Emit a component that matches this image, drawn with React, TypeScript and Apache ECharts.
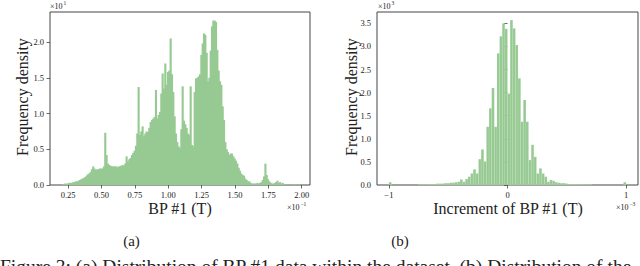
import React, { useEffect, useRef } from "react";
import * as echarts from "echarts";

// (a) BP #1 histogram: bins of width 0.01 starting at 0.20 (x10^-1 T), density x10^1
const bpBinStart = 0.2;
const bpBinWidth = 0.01;
const bpDensity = [
  0.01, 0.01, 0.02, 0.02, 0.02, 0.03, 0.03, 0.03, 0.04, 0.04,
  0.05, 0.05, 0.06, 0.07, 0.08, 0.09, 0.10, 0.11, 0.13, 0.15,
  0.16, 0.18, 0.22, 0.26, 0.23, 0.21, 0.22, 0.22, 0.23, 0.23,
  0.23, 0.26, 0.73, 0.42, 0.30, 0.28, 0.27, 0.26, 0.26, 0.26,
  0.26, 0.25, 0.26, 0.26, 0.27, 0.28, 0.27, 0.30, 0.40, 0.33,
  0.36, 0.38, 0.42, 0.45, 0.48, 0.55, 0.72, 1.37, 0.70, 0.75,
  0.82, 0.68, 0.72, 0.75, 0.74, 0.80, 0.88, 0.91, 0.93, 0.95,
  1.33, 0.93, 0.98, 1.02, 1.28, 1.56, 1.35, 1.70, 1.40, 1.58,
  1.60, 2.05, 1.55, 1.30, 0.96, 0.72, 0.60, 0.54, 0.52, 0.78,
  1.38, 0.90, 0.85, 0.80, 0.72, 0.70, 1.38, 0.56, 0.54, 1.30,
  1.49, 1.50, 1.52, 1.55, 1.82, 1.98, 2.12, 2.10, 1.85, 1.45,
  1.50, 1.88, 2.22, 2.30, 2.30, 2.28, 1.89, 1.60, 1.45, 1.40,
  1.10, 0.91, 0.60, 0.50, 0.46, 0.42, 0.44, 0.44, 0.40, 0.37,
  0.34, 0.30, 0.24, 0.20, 0.16, 0.14, 0.13, 0.09, 0.07, 0.05,
  0.05, 0.03, 0.02, 0.02, 0.02, 0.02, 0.03, 0.02, 0.03, 0.04,
  0.07, 0.12, 0.30, 0.14, 0.08, 0.05, 0.03, 0.02, 0.02, 0.03,
  0.04, 0.06, 0.03, 0.04, 0.02, 0.03, 0.01, 0.01, 0.00, 0.01,
  0.00, 0.01, 0.00, 0.01, 0.01, 0.01, 0.00, 0.01,
];

// (b) increment histogram: 90 bins over [-1, 1] (x10^-3 T), density x10^3
const incBinStart = -1;
const incBinCount = 90;
const incDensity = [
  0.06, 0, 0, 0, 0, 0, 0, 0, 0, 0,
  0, 0.01, 0.01, 0.015, 0.015, 0.02, 0.02, 0.02, 0.03, 0.03,
  0.03, 0.04, 0.04, 0.05, 0.05, 0.06, 0.07, 0.12, 0.07, 0.13,
  0.18, 0.25, 0.34, 0.25, 0.56, 0.77, 0.51, 1.26, 1.66, 2.10,
  1.26, 2.85, 3.22, 3.50, 3.38, 1.98, 3.57, 3.39, 3.03, 2.31,
  1.37, 1.84, 1.37, 0.54, 0.87, 0.61, 0.25, 0.36, 0.25, 0.18,
  0.07, 0.11, 0.09, 0.06, 0.05, 0.04, 0.04, 0.03, 0.02, 0.02,
  0.02, 0.015, 0.015, 0.01, 0.01, 0.01, 0.01, 0, 0, 0,
  0, 0, 0, 0, 0, 0, 0, 0, 0, 0.06,
];

const bpXTicks = [0.25, 0.5, 0.75, 1.0, 1.25, 1.5, 1.75, 2.0];
const bpYTicks = [0, 0.5, 1.0, 1.5, 2.0];
const incXTicks = [-1, 0, 1];
const incYTicks = [0, 0.5, 1.0, 1.5, 2.0, 2.5, 3.0, 3.5];

const SERIF = "'Liberation Serif', 'Times New Roman', 'DejaVu Serif', serif";
const BAR = "#97ca93";
const INK = "#222";
const FRAME = "#444";

function binsToRects(start: number, width: number, vals: number[]) {
  return vals.map((v, i) => [start + i * width, start + (i + 1) * width, v]);
}

// bleed: extra px added to each bar's width so adjacent narrow bins leave no seams
function makeRender(fill: string, stroke: string, lw: number, bleed: number) {
  return (params: any, api: any) => {
    const h = api.value(2);
    if (!h) return { type: "group", children: [] };
    const p0 = api.coord([api.value(0), h]);
    const p1 = api.coord([api.value(1), 0]);
    return {
      type: "rect",
      shape: { x: p0[0], y: p0[1], width: p1[0] - p0[0] + bleed, height: p1[1] - p0[1] },
      style: { fill, stroke, lineWidth: lw },
    };
  };
}

function valueAxisX(grid: number, min: number, max: number, ticks: number[], fmt: (v: number) => string) {
  return {
    type: "value",
    gridIndex: grid,
    min,
    max,
    axisLine: { show: false },
    splitLine: { show: false },
    axisTick: { show: true, length: 3.5, customValues: ticks, lineStyle: { color: FRAME, width: 0.8 } },
    axisLabel: {
      customValues: ticks,
      formatter: fmt,
      fontFamily: SERIF,
      fontSize: 8.5,
      color: INK,
      margin: 5,
    },
  };
}

function valueAxisY(grid: number, max: number, ticks: number[]) {
  return {
    type: "value",
    gridIndex: grid,
    min: 0,
    max,
    axisLine: { show: false },
    splitLine: { show: false },
    axisTick: { show: true, length: 3.5, customValues: ticks, lineStyle: { color: FRAME, width: 0.8 } },
    axisLabel: {
      customValues: ticks,
      formatter: (v: number) => v.toFixed(1),
      fontFamily: SERIF,
      fontSize: 8.5,
      color: INK,
      margin: 6,
    },
  };
}

function txt(x: number, y: number, text: string, size: number, extra: any = {}) {
  return {
    type: "text",
    x,
    y,
    silent: true,
    ...extra,
    style: {
      text,
      fontFamily: SERIF,
      fontSize: size,
      fill: INK,
      align: extra.align || "left",
      verticalAlign: extra.verticalAlign || "middle",
    },
  };
}

export default function App() {
  const ref = useRef<HTMLDivElement>(null);

  useEffect(() => {
    document.body.style.margin = "0";
    if (!ref.current) return;
    const chart = echarts.init(ref.current, undefined, { renderer: "svg" });
    const minus = (v: number) => (v < 0 ? "\u2212" + Math.abs(v) : String(v));
    chart.setOption({
      animation: false,
      backgroundColor: "#fff",
      grid: [
        { left: 50, top: 12, width: 260, height: 173, show: true, borderColor: FRAME, borderWidth: 1, backgroundColor: "transparent" },
        { left: 377, top: 12, width: 261, height: 173, show: true, borderColor: FRAME, borderWidth: 1, backgroundColor: "transparent" },
      ],
      xAxis: [
        valueAxisX(0, 0.114, 2.062, bpXTicks, (v: number) => v.toFixed(2)),
        valueAxisX(1, -1.1, 1.1, incXTicks, minus),
      ],
      yAxis: [valueAxisY(0, 2.42, bpYTicks), valueAxisY(1, 3.745, incYTicks)],
      series: [
        {
          type: "custom",
          xAxisIndex: 0,
          yAxisIndex: 0,
          renderItem: makeRender(BAR, "none", 0, 0.8),
          encode: { x: [0, 1], y: 2 },
          data: binsToRects(bpBinStart, bpBinWidth, bpDensity),
          silent: true,
        },
        {
          type: "custom",
          xAxisIndex: 1,
          yAxisIndex: 1,
          renderItem: makeRender(BAR, "rgba(255,255,255,0.2)", 0.5, 0),
          encode: { x: [0, 1], y: 2 },
          data: binsToRects(incBinStart, 2 / incBinCount, incDensity),
          silent: true,
        },
      ],
      graphic: [
        // axis titles
        txt(22, 97, "Frequency density", 16, { rotation: Math.PI / 2, align: "center" }),
        txt(351, 97, "Frequency density", 16, { rotation: Math.PI / 2, align: "center" }),
        txt(180, 208, "BP #1 (T)", 16, { align: "center" }),
        txt(508, 208, "Increment of BP #1 (T)", 16, { align: "center" }),
        // offset/scale annotations
        txt(50, 6, "\u00d710", 8),
        txt(63.5, 3, "1", 5.5),
        txt(287, 207.5, "\u00d710", 8),
        txt(300.5, 204, "\u22121", 5.5),
        txt(378, 6, "\u00d710", 8),
        txt(391.5, 3, "3", 5.5),
        txt(616, 207.5, "\u00d710", 8),
        txt(629.5, 204, "\u22123", 5.5),
        // sub-captions
        txt(131.5, 241, "(a)", 15, { align: "center" }),
        txt(400, 241, "(b)", 15, { align: "center" }),
        // figure caption (cut off at the bottom edge, as in the source page)
        {
          type: "text",
          x: 0,
          y: 256,
          silent: true,
          style: {
            text: "Figure 3: (a) Distribution of BP #1 data within the dataset. (b) Distribution of the",
            fontFamily: SERIF,
            fontSize: 19.5,
            fill: INK,
            align: "left",
            verticalAlign: "top",
          },
        },
      ],
    });
    return () => chart.dispose();
  }, []);

  return <div ref={ref} style={{ width: 640, height: 266 }} />;
}
